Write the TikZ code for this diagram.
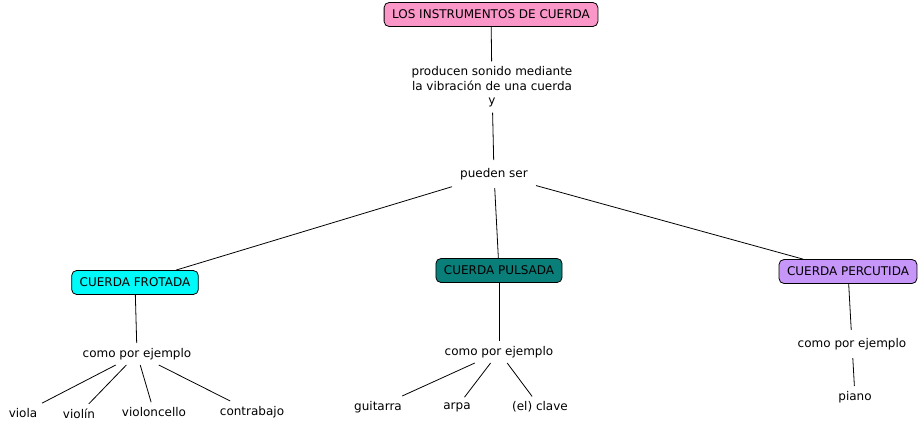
\documentclass[tikz,border=0pt]{standalone}
\usepackage{fontspec}
\setmainfont{DejaVu Sans}
\usepackage{tikz}
\usetikzlibrary{shapes,arrows,positioning}
\definecolor{cpink}{HTML}{FA96C8}
\definecolor{ccyan}{HTML}{00FAFA}
\definecolor{cteal}{HTML}{0A7F7A}
\definecolor{clila}{HTML}{C696F8}
\tikzstyle{cnode} = [draw, line width=0.8pt, rounded corners=5pt, inner xsep=8pt, minimum height=24pt, font=\fontsize{12}{14}\selectfont]
\tikzstyle{lnode} = [inner sep=5pt, align=center, font=\fontsize{12}{14.5}\selectfont]
\tikzstyle{line} = [draw, line width=0.8pt]

\begin{document}
\begin{tikzpicture}[x=1pt, y=-1pt]
			\useasboundingbox (0,0) rectangle (921,429);
			\node [cnode, fill=cpink] (inst) at (491,14.5) {LOS INSTRUMENTOS DE CUERDA};
			\node [lnode] (prod) at (492,87) {producen sonido mediante\\la vibración de una cuerda\\y};
			\node [lnode, inner sep=8pt] (pued) at (494,174) {pueden ser};
			
			\node [cnode, fill=ccyan] (frot) at (135,282.5) {CUERDA FROTADA};
			\node [cnode, fill=cteal] (puls) at (499,270.5) {CUERDA PULSADA};
			\node [cnode, fill=clila] (perc) at (848,271.5) {CUERDA PERCUTIDA};
			
			\node [lnode] (ej1) at (137,354) {como por ejemplo};
			\node [lnode] (ej2) at (499,352) {como por ejemplo};
			\node [lnode, inner sep=8pt] (ej3) at (852,344) {como por ejemplo};
			
			\node [lnode] (viola) at (23,413) {viola};
			\node [lnode] (violin) at (79,414) {violín};
			\node [lnode] (cello) at (154,412) {violoncello};
			\node [lnode] (contra) at (252,412) {contrabajo};
			\node [lnode] (guit) at (378,407) {guitarra};
			\node [lnode] (arpa) at (457,407) {arpa};
			\node [lnode] (clave) at (540,407) {(el) clave};
			\node [lnode] (piano) at (855,397) {piano};
			
			\path [line] (inst) -- (prod);
			\path [line] (prod) -- (pued);
			\path [line] (pued) -- (frot);
			\path [line] (pued) -- (puls);
			\path [line] (pued) -- (perc);
			\path [line] (frot) -- (ej1);
			\path [line] (puls) -- (ej2);
			\path [line] (perc) -- (ej3);
			\path [line] (ej1) -- (viola);
			\path [line] (ej1) -- (violin);
			\path [line] (ej1) -- (cello);
			\path [line] (ej1) -- (contra);
			\path [line] (ej2) -- (guit);
			\path [line] (ej2) -- (arpa);
			\path [line] (ej2) -- (clave);
			\path [line] (ej3) -- (piano);
		\end{tikzpicture}
\end{document}
